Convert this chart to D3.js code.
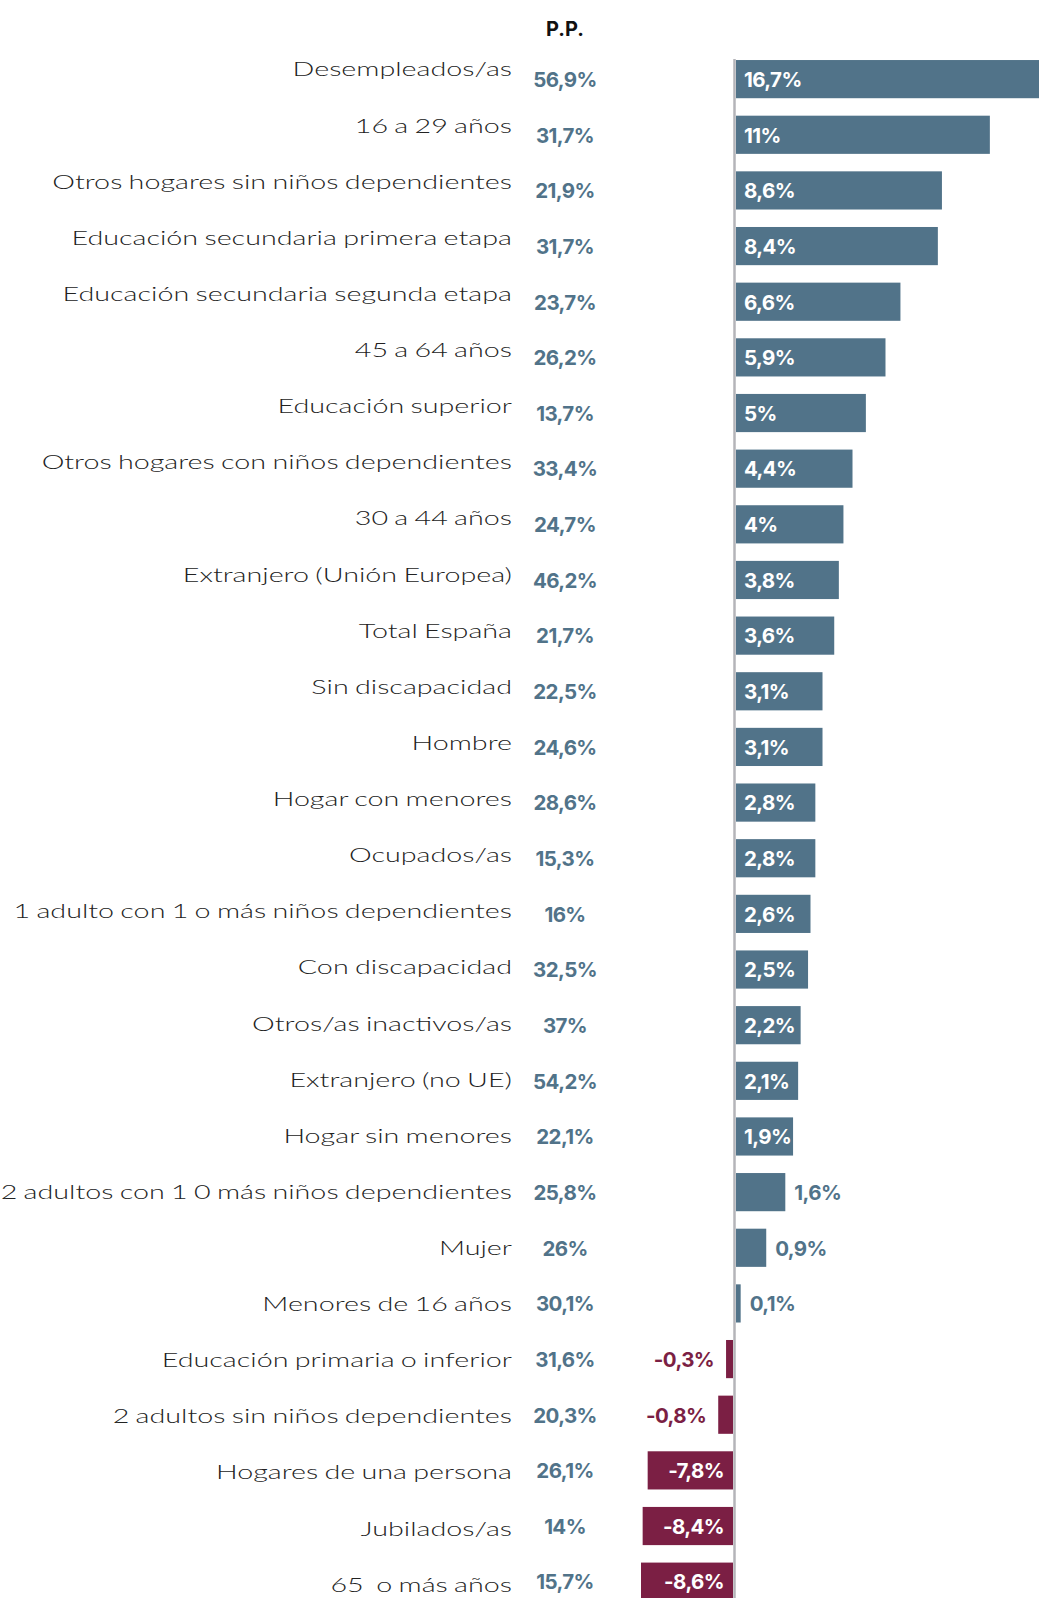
<!DOCTYPE html>
<html>
<head>
<meta charset="utf-8">
<script src="https://cdn.jsdelivr.net/npm/d3@7"></script>
<style>
  body { margin: 0; background: #fff; }
  svg { display: block; }
</style>
</head>
<body>
<svg width="1039" height="1598"></svg>
<script>
var categories = [
  "Desempleados/as", "16 a 29 años", "Otros hogares sin niños dependientes",
  "Educación secundaria primera etapa", "Educación secundaria segunda etapa",
  "45 a 64 años", "Educación superior", "Otros hogares con niños dependientes",
  "30 a 44 años", "Extranjero (Unión Europea)", "Total España", "Sin discapacidad",
  "Hombre", "Hogar con menores", "Ocupados/as", "1 adulto con 1 o más niños dependientes",
  "Con discapacidad", "Otros/as inactivos/as", "Extranjero (no UE)", "Hogar sin menores",
  "2 adultos con 1 0 más niños dependientes", "Mujer", "Menores de 16 años",
  "Educación primaria o inferior", "2 adultos sin niños dependientes",
  "Hogares de una persona", "Jubilados/as", "65  o más años"
];
var rates = [56.9, 31.7, 21.9, 31.7, 23.7, 26.2, 13.7, 33.4, 24.7, 46.2, 21.7, 22.5,
  24.6, 28.6, 15.3, 16, 32.5, 37, 54.2, 22.1, 25.8, 26, 30.1, 31.6, 20.3, 26.1, 14, 15.7];
var changes = [16.7, 11, 8.6, 8.4, 6.6, 5.9, 5, 4.4, 4, 3.8, 3.6, 3.1, 3.1, 2.8, 2.8,
  2.6, 2.5, 2.2, 2.1, 1.9, 1.6, 0.9, 0.1, -0.3, -0.8, -7.8, -8.4, -8.6];

var data = categories.map(function(c, i) {
  return { name: c, rate: rates[i], change: changes[i] };
});

var svg = d3.select("svg");
var blue = "#517389", maroon = "#7b1f44";
var labelFont = "Lato, sans-serif", valueFont = "Inter, sans-serif";

var fmt = function(v) { return String(v).replace(".", ",") + "%"; };

var y = d3.scaleBand()
  .domain(categories)
  .range([51.3, 1609.5])
  .paddingInner(0.314)
  .paddingOuter(0.157);

// category labels sit on their own slightly wider rhythm
var yLabel = d3.scalePoint()
  .domain(categories)
  .range([69.8, 1585]);

var zeroX = 734.5;
var xPos = d3.scalePow().exponent(0.85).domain([0, 16.7]).range([0, 362]);
var xNeg = d3.scalePow().exponent(0.77).domain([0, 8.6]).range([0, 92]);

function barStart(d) { return d.change >= 0 ? zeroX + 1.5 : zeroX - 1.5 - xNeg(-d.change); }
function barWidth(d) { return d.change >= 0 ? xPos(d.change) : xNeg(-d.change); }
function mid(d) { return y(d.name) + y.bandwidth() / 2; }

svg.append("text")
  .attr("x", 565).attr("y", 35.7)
  .attr("text-anchor", "middle")
  .style("font-family", valueFont).style("font-weight", 700).style("font-size", "20px")
  .attr("fill", "#111")
  .text("P.P.");

// the original face is a wide geometric light; stretch Lato Light to match
var labels = svg.append("g");
var labelText = labels.selectAll("text")
  .data(data)
  .enter().append("text")
  .attr("x", 0)
  .attr("y", function(d) { return yLabel(d.name) + 6.7; })
  .attr("text-anchor", "end")
  .style("font-family", labelFont).style("font-weight", 300).style("font-size", "18.8px")
  .style("word-spacing", "-1px")
  .style("white-space", "pre")
  .attr("fill", "#222")
  .text(function(d) { return d.name; });

// "Otros hogares con niños dependientes" is ~470px wide in the original
var stretch = 470 / labelText.nodes()[7].getComputedTextLength();
labels.attr("transform", "translate(512,0) scale(" + stretch + ",1)");

svg.append("g")
  .selectAll("text")
  .data(data)
  .enter().append("text")
  .attr("x", 565)
  .attr("y", function(d) { return mid(d) + 7.8; })
  .attr("text-anchor", "middle")
  .style("font-family", valueFont).style("font-weight", 700).style("font-size", "20.5px")
  .style("letter-spacing", "-0.6px")
  .attr("fill", blue)
  .text(function(d) { return fmt(d.rate); });

svg.append("g")
  .selectAll("rect")
  .data(data)
  .enter().append("rect")
  .attr("x", barStart)
  .attr("y", function(d) { return y(d.name); })
  .attr("width", barWidth)
  .attr("height", y.bandwidth())
  .attr("fill", function(d) { return d.change >= 0 ? blue : maroon; });

svg.append("line")
  .attr("x1", zeroX).attr("x2", zeroX)
  .attr("y1", 59).attr("y2", 1598)
  .attr("stroke", "#b4b4b9").attr("stroke-width", 2.5);

svg.append("g")
  .selectAll("text")
  .data(data)
  .enter().append("text")
  .attr("x", function(d) {
    var inside = barWidth(d) > 55;
    if (d.change >= 0) return inside ? barStart(d) + 8 : barStart(d) + barWidth(d) + 9;
    return inside ? barStart(d) + barWidth(d) - 9 : barStart(d) - 12;
  })
  .attr("y", function(d) { return mid(d) + 7.8; })
  .attr("text-anchor", function(d) { return d.change >= 0 ? "start" : "end"; })
  .style("font-family", valueFont).style("font-weight", 700).style("font-size", "20.5px")
  .style("letter-spacing", "-0.6px")
  .attr("fill", function(d) {
    if (barWidth(d) > 55) return "#fff";
    return d.change >= 0 ? blue : maroon;
  })
  .text(function(d) { return fmt(d.change); });
</script>
</body>
</html>
